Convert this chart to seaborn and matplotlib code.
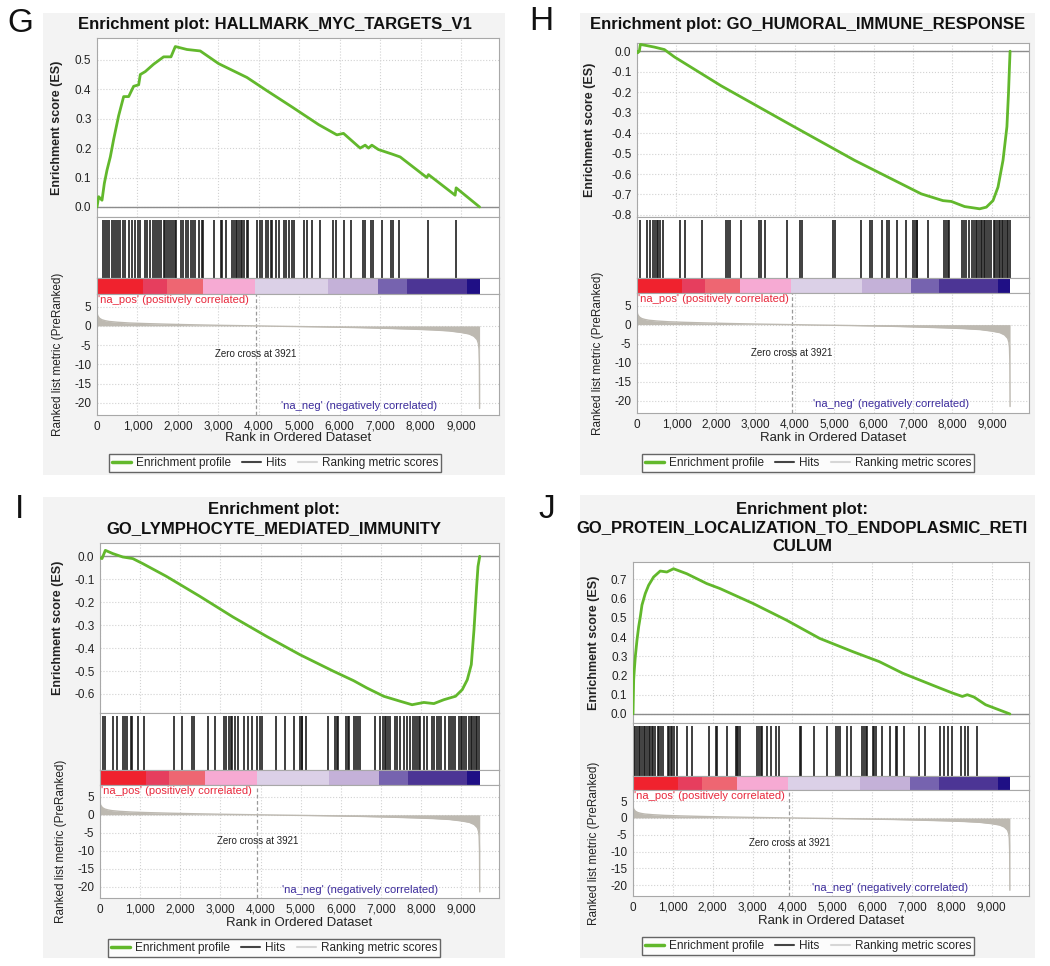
import matplotlib
matplotlib.use("Agg")
import matplotlib.pyplot as plt
from matplotlib.lines import Line2D
from matplotlib.patches import Rectangle
from matplotlib.ticker import FuncFormatter, MultipleLocator
import seaborn as sns

W, H = 1050, 966

# ranked list metric, shared by all four panels
rank_pos = [0, 20, 60, 120, 200, 300, 500, 800, 1200, 1700, 2300, 3000, 3921,
            4500, 5500, 6500, 7200, 7800, 8300, 8700, 9000, 9200, 9320, 9400,
            9430, 9445, 9455, 9460]
rank_metric = [3.3, 2.6, 2.0, 1.6, 1.35, 1.15, 0.95, 0.75, 0.6, 0.45, 0.3, 0.15, 0.0,
               -0.1, -0.25, -0.45, -0.65, -0.85, -1.05, -1.3, -1.7, -2.1, -2.7, -3.6,
               -4.6, -6.0, -10.0, -21.5]
zero_cross = 3921

# colour strip under the hits
cbar_edges = [0, 1140, 1730, 2620, 3900, 5710, 6950, 7670, 9150, 9460]
cbar_colors = ["#F0222E", "#E63E5E", "#EE6672", "#F6AAD3", "#DBD0E7",
               "#C4B1D8", "#7663AF", "#4C3595", "#1F0F85"]

# G
g_title = "Enrichment plot: HALLMARK_MYC_TARGETS_V1"
g_es_rank = [0, 41, 124, 181, 247, 329, 412, 535, 659, 783, 906, 1030, 1071, 1194,
             1400, 1647, 1829, 1936, 2224, 2553, 3006, 3707, 4201, 4819, 5478, 5931,
             6095, 6507, 6631, 6713, 6796, 6960, 7290, 7496, 8155, 8196, 8855, 8880, 9460]
g_es = [0.0, 0.035, 0.023, 0.08, 0.125, 0.17, 0.23, 0.31, 0.375, 0.375, 0.41, 0.415,
        0.45, 0.46, 0.485, 0.51, 0.51, 0.545, 0.535, 0.53, 0.487, 0.44, 0.395, 0.34,
        0.28, 0.245, 0.25, 0.2, 0.21, 0.2, 0.21, 0.195, 0.18, 0.17, 0.1, 0.11, 0.04,
        0.065, 0.0]
g_hits = [140, 190, 248, 306, 372, 413, 471, 520, 578, 636, 686, 785, 867, 933, 1016,
          1074, 1181, 1239, 1322, 1379, 1429, 1487, 1545, 1594, 1652, 1693, 1735, 1792,
          1842, 1875, 1925, 1958, 2065, 2123, 2189, 2255, 2313, 2371, 2420, 2519, 2585,
          2618, 2891, 3056, 3098, 3180, 3345, 3387, 3428, 3469, 3511, 3552, 3593, 3634,
          3717, 3742, 3965, 4023, 4089, 4171, 4237, 4295, 4337, 4419, 4502, 4626, 4684,
          4750, 4816, 4873, 5121, 5204, 5311, 5509, 5840, 5906, 6112, 6278, 6567, 6633,
          6773, 6815, 7046, 7269, 7310, 7475, 8177, 8880]

# H
h_title = "Enrichment plot: GO_HUMORAL_IMMUNE_RESPONSE"
h_es_rank = [0, 17, 59, 85, 228, 440, 694, 948, 2132, 3824, 5516, 7208, 7758, 7970,
             8308, 8689, 8858, 9027, 9154, 9281, 9380, 9420, 9445, 9460]
h_es = [0.0, -0.008, 0.0, 0.033, 0.028, 0.02, 0.008, -0.028, -0.169, -0.352, -0.533,
        -0.697, -0.73, -0.734, -0.759, -0.77, -0.762, -0.73, -0.664, -0.533, -0.369,
        -0.205, -0.074, 0.0]
h_hits = [83, 250, 333, 416, 449, 499, 532, 582, 666, 1082, 1223, 1639, 2263, 2305,
          2346, 2637, 3095, 3137, 3245, 3802, 4135, 4177, 4967, 5009, 5691, 5907, 5965,
          6215, 6340, 6381, 6589, 6822, 7005, 7047, 7089, 7105, 7380, 7796, 7837, 7879,
          7921, 8237, 8295, 8353, 8420, 8503, 8545, 8586, 8628, 8669, 8711, 8753, 8794,
          8836, 8877, 8919, 8986, 9044, 9085, 9127, 9169, 9210, 9252, 9293, 9335, 9377,
          9418, 9455]

# I
i_title = "Enrichment plot:\nGO_LYMPHOCYTE_MEDIATED_IMMUNITY"
i_es_rank = [0, 50, 133, 317, 567, 817, 1067, 1650, 2483, 3317, 4150, 4983, 5817, 6317,
             6650, 7067, 7483, 7775, 8067, 8317, 8567, 8858, 9025, 9150, 9250, 9317,
             9383, 9417, 9460]
i_es = [-0.007, -0.01, 0.026, 0.012, -0.003, -0.01, -0.032, -0.087, -0.174, -0.265,
        -0.349, -0.429, -0.501, -0.542, -0.574, -0.61, -0.632, -0.647, -0.637, -0.642,
        -0.625, -0.61, -0.581, -0.538, -0.472, -0.32, -0.131, -0.044, 0.0]
i_hits = [83, 117, 334, 434, 584, 617, 667, 767, 809, 951, 1084, 1835, 2035, 2285, 2335,
          2685, 2869, 3086, 3144, 3203, 3253, 3286, 3353, 3436, 3586, 3686, 3786, 3920,
          3978, 4037, 4395, 4620, 4837, 4979, 5021, 5037, 5121, 5688, 5855, 5896, 5921,
          6122, 6172, 6205, 6338, 6372, 6422, 6480, 6839, 6981, 7039, 7089, 7122, 7172,
          7231, 7339, 7398, 7481, 7564, 7648, 7731, 7790, 7856, 7898, 7940, 7981, 8065,
          8148, 8273, 8315, 8398, 8456, 8506, 8607, 8690, 8732, 8790, 8840, 8940, 8982,
          9024, 9066, 9107, 9190, 9232, 9274, 9315, 9357, 9399, 9440]

# J
j_title = "Enrichment plot:\nGO_PROTEIN_LOCALIZATION_TO_ENDOPLASMIC_RETI\nCULUM"
j_es_rank = [0, 17, 33, 58, 100, 142, 183, 225, 308, 392, 517, 683, 850, 1017, 1350,
             1850, 2183, 3017, 3850, 4683, 5517, 6183, 6767, 7600, 8017, 8267, 8392,
             8558, 8850, 9460]
j_es = [0.0, 0.178, 0.229, 0.298, 0.384, 0.453, 0.505, 0.566, 0.626, 0.669, 0.712,
        0.743, 0.738, 0.755, 0.729, 0.678, 0.652, 0.574, 0.488, 0.393, 0.324, 0.272,
        0.212, 0.143, 0.109, 0.091, 0.1, 0.088, 0.048, 0.0]
j_hits = [17, 58, 99, 140, 182, 223, 264, 306, 347, 396, 430, 479, 512, 562, 620, 661,
          702, 743, 867, 909, 950, 991, 1033, 1115, 1363, 1487, 1900, 2082, 2106, 2354,
          2577, 2602, 2643, 2685, 3122, 3155, 3205, 3238, 3370, 3469, 3593, 3676, 4196,
          4229, 4543, 4873, 5105, 5138, 5187, 5369, 5468, 5741, 5799, 5848, 5881, 6013,
          6046, 6112, 6261, 6443, 6591, 6625, 6790, 7186, 7335, 7698, 7806, 7913, 7996,
          8240, 8343, 8409, 8632]

GREEN = "#62B82C"
SPINE = "#A8A8A8"
GRIDC = "#D2D2D2"
METRIC = "#BDB9B1"
X_MAX = 9940

sns.set_theme(style="white")
plt.rcParams["font.family"] = ["Liberation Sans", "DejaVu Sans"]
plt.rcParams["axes.unicode_minus"] = False


def add_axes(fig, left, top, right, bottom):
    return fig.add_axes([left / W, 1 - bottom / H, (right - left) / W, (bottom - top) / H])


def style_axes(ax):
    ax.set_facecolor("white")
    for s in ax.spines.values():
        s.set_color(SPINE)
        s.set_linewidth(0.8)
        s.set_visible(True)
    ax.set_xlim(0, X_MAX)


def draw_panel(fig, p):
    # grey panel background
    x0, y0, x1, y1 = p["bg"]
    fig.patches.append(Rectangle((x0 / W, 1 - y1 / H), (x1 - x0) / W, (y1 - y0) / H,
                                 transform=fig.transFigure, facecolor="#F3F3F3",
                                 edgecolor="none", zorder=-5))
    fig.text(p["letter"][0] / W, 1 - p["letter"][1] / H, p["name"], fontsize=24,
             ha="center", va="center", color="#111111")
    fig.text(p["title_xy"][0] / W, 1 - p["title_xy"][1] / H, p["title"], fontsize=12,
             fontweight="bold", ha="center", va="center", linespacing=1.3, color="#111111")

    L, R = p["left"], p["right"]
    es_top, hit_top, cb_top, rk_top, rk_bot = p["rows"]

    # enrichment score
    ax = add_axes(fig, L, es_top, R, hit_top)
    style_axes(ax)
    ax.axhline(0, color="#8C8C8C", lw=1, zorder=1)
    sns.lineplot(x=p["es_rank"], y=p["es"], ax=ax, color=GREEN, lw=2, estimator=None,
                 zorder=3)
    ax.set_ylim(*p["ylim"])
    ax.set_yticks(p["yticks"])
    ax.yaxis.set_major_formatter(FuncFormatter(lambda v, _: f"{v:.1f}".replace("-0.0", "0.0")))
    ax.xaxis.set_major_locator(MultipleLocator(1000))
    ax.grid(True, color=GRIDC, ls=":", lw=0.8)
    ax.tick_params(axis="x", length=0, labelbottom=False)
    ax.tick_params(axis="y", length=2, color="#808080", labelsize=8.5, pad=2, labelcolor="#222222")
    ax.set_ylabel("Enrichment score (ES)", fontsize=9, fontweight="bold", color="#222222")
    ax.yaxis.set_label_coords((p["es_lab_x"] - L) / (R - L), 0.5)

    # hits
    axh = add_axes(fig, L, hit_top, R, cb_top)
    style_axes(axh)
    axh.vlines(p["hits"], 0, 0.95, color="#151515", lw=1.15)
    axh.set_ylim(0, 1)
    axh.set_xticks([])
    axh.set_yticks([])

    # colour strip
    axc = add_axes(fig, L, cb_top, R, rk_top)
    style_axes(axc)
    lefts = cbar_edges[:-1]
    widths = [b - a for a, b in zip(cbar_edges[:-1], cbar_edges[1:])]
    axc.barh([0.5] * len(widths), widths, left=lefts, height=1.0, color=cbar_colors,
             edgecolor="none")
    axc.set_ylim(0, 1)
    axc.set_xticks([])
    axc.set_yticks([])

    # ranked list metric
    axr = add_axes(fig, L, rk_top, R, rk_bot)
    style_axes(axr)
    axr.fill_between(rank_pos, rank_metric, 0, color=METRIC, lw=0, zorder=2)
    sns.lineplot(x=rank_pos, y=rank_metric, ax=axr, color=METRIC, lw=1.0, estimator=None,
                 zorder=2)
    axr.axvline(zero_cross, color="#9A9A9A", ls=(0, (3, 2)), lw=0.9, zorder=1)
    axr.set_ylim(-23.2, 8.3)
    axr.set_yticks([5, 0, -5, -10, -15, -20])
    axr.xaxis.set_major_locator(MultipleLocator(1000))
    axr.xaxis.set_major_formatter(FuncFormatter(lambda v, _: f"{int(v):,}"))
    axr.grid(True, color=GRIDC, ls=":", lw=0.8)
    axr.tick_params(length=2, color="#808080", labelsize=8.5, pad=2, labelcolor="#222222")
    axr.set_ylabel("Ranked list metric (PreRanked)", fontsize=8.5, color="#222222")
    axr.yaxis.set_label_coords((p["rk_lab_x"] - L) / (R - L), 0.5)
    axr.text(30, 8.1, "'na_pos' (positively correlated)", color="#E8283C", fontsize=8,
             ha="left", va="top")
    axr.text(zero_cross, -7.4, "Zero cross at 3921", color="#222222", fontsize=7,
             ha="center", va="center")
    axr.text(8420, -20.9, "'na_neg' (negatively correlated)", color="#3C2C9C",
             fontsize=8, ha="right", va="center")

    fig.text((L + R) / 2 / W, 1 - p["xlab_y"] / H, "Rank in Ordered Dataset",
             fontsize=9.5, ha="center", va="center", color="#222222")

    handles = [Line2D([], [], color=GREEN, lw=2.5),
               Line2D([], [], color="#444444", lw=1.5),
               Line2D([], [], color="#D6D6D6", lw=1.5)]
    labels = ["Enrichment profile", "Hits", "Ranking metric scores"]
    leg = fig.legend(handles, labels, loc="center",
                     bbox_to_anchor=(p["legend_xy"][0] / W, 1 - p["legend_xy"][1] / H),
                     ncol=3, fontsize=8.5, frameon=True, fancybox=False,
                     handlelength=1.6, handletextpad=0.4, columnspacing=1.0,
                     borderpad=0.25, borderaxespad=0)
    leg.get_frame().set_edgecolor("#404040")
    leg.get_frame().set_linewidth(1.0)
    leg.get_frame().set_facecolor("white")


panels = [
    dict(name="G", title=g_title, es_rank=g_es_rank, es=g_es, hits=g_hits,
         ylim=(-0.034, 0.574), yticks=[0.0, 0.1, 0.2, 0.3, 0.4, 0.5],
         bg=(43, 13, 505, 475), letter=(20, 24), title_xy=(275, 25),
         left=97, right=499, rows=(38, 217, 278, 294, 415),
         es_lab_x=63, rk_lab_x=64, xlab_y=438, legend_xy=(275, 463)),
    dict(name="H", title=h_title, es_rank=h_es_rank, es=h_es, hits=h_hits,
         ylim=(-0.81, 0.04), yticks=[0.0, -0.1, -0.2, -0.3, -0.4, -0.5, -0.6, -0.7, -0.8],
         bg=(580, 13, 1035, 475), letter=(541, 22), title_xy=(808, 25),
         left=637, right=1029, rows=(43, 217, 278, 293, 413),
         es_lab_x=596, rk_lab_x=604, xlab_y=438, legend_xy=(808, 463)),
    dict(name="I", title=i_title, es_rank=i_es_rank, es=i_es, hits=i_hits,
         ylim=(-0.683, 0.058), yticks=[0.0, -0.1, -0.2, -0.3, -0.4, -0.5, -0.6],
         bg=(43, 497, 505, 958), letter=(19, 510), title_xy=(274, 519),
         left=100, right=499, rows=(543, 713, 770, 785, 898),
         es_lab_x=64, rk_lab_x=67, xlab_y=923, legend_xy=(274, 948)),
    dict(name="J", title=j_title, es_rank=j_es_rank, es=j_es, hits=j_hits,
         ylim=(-0.047, 0.79), yticks=[0.0, 0.1, 0.2, 0.3, 0.4, 0.5, 0.6, 0.7],
         bg=(580, 495, 1035, 958), letter=(547, 510), title_xy=(802, 528),
         left=633, right=1029, rows=(562, 723, 776, 790, 896),
         es_lab_x=600, rk_lab_x=600, xlab_y=921, legend_xy=(808, 946)),
]

fig = plt.figure(figsize=(W / 100, H / 100), dpi=100)
fig.patch.set_facecolor("white")
for p in panels:
    draw_panel(fig, p)

fig.savefig("out.png", dpi=100)
